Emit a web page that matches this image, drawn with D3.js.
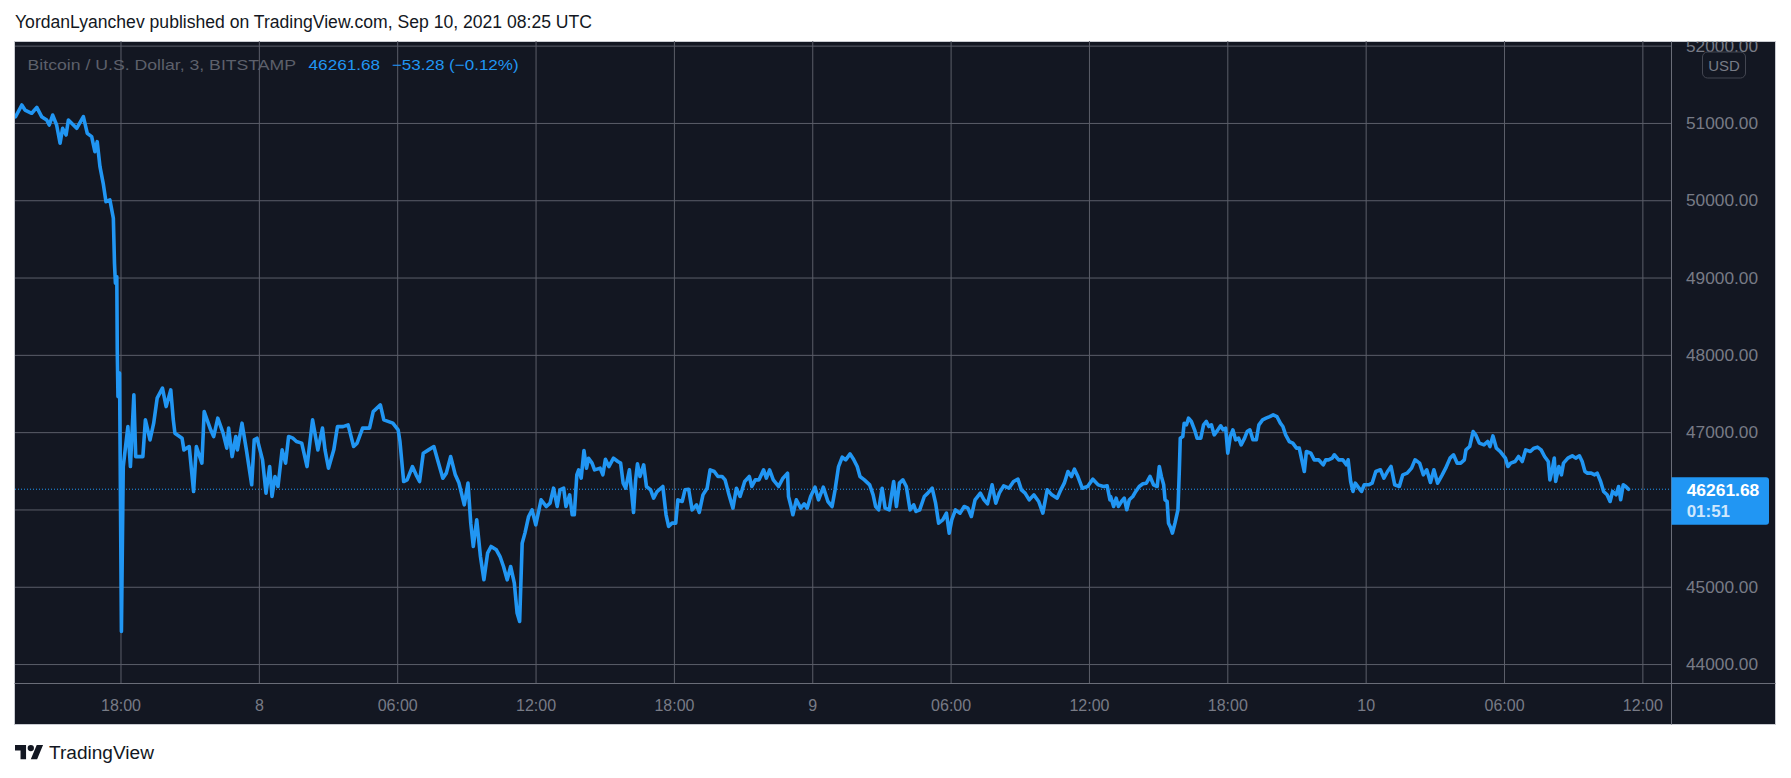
<!DOCTYPE html>
<html>
<head>
<meta charset="utf-8">
<script src="https://cdn.jsdelivr.net/npm/d3@7"></script>
<style>
html,body{margin:0;padding:0;background:#ffffff;}
svg{display:block;}
</style>
</head>
<body>
<svg id="chart" width="1791" height="778"></svg>
<script>
// ---------------- DATA ----------------
// hours since 2021-09-07 00:00, and BTC/USD price (3-min line)
const hoursA = [13.45,13.72,13.86,14.15,14.37,14.58,14.80,14.91,15.06,15.23,15.38,15.49,15.64,15.74,16.10,16.39,16.56,16.75,16.89,16.99,17.11,17.25,17.37,17.54,17.69,17.74,17.78,17.84,17.86,17.89,17.96,18.04,18.12,18.32,18.43,18.58,18.66,18.97,19.08,19.28,19.44,19.59,19.82,19.98,20.18,20.29,20.36,20.67,20.75,20.98,21.17,21.29,21.53,21.63,21.91,22.04,22.22,22.45,22.61,22.69,22.84,23.00,23.07,23.27,23.46,23.69,23.80,23.92,24.16,24.31,24.47,24.57,24.70,24.83,25.01,25.16,25.29,25.48,25.63,25.86,26.09,26.33,26.56,26.76,26.87,27.02,27.25,27.41,27.65,27.87,28.11,28.26,28.50,28.80,28.96,29.27,29.42,29.81,30.04,30.12,30.28,30.43,30.66,30.82,30.97,31.13,31.36,31.59,31.75,31.98,32.13,32.32,32.52,32.68,32.91,33.07,33.19,33.30,33.45,33.61,33.76,33.92,34.07,34.30,34.46,34.61,34.77,34.92,35.08,35.20,35.31,35.42,35.54,35.70,35.85,36.01,36.24,36.47];
const pricesA = [51080,51232,51167,51125,51202,51081,51038,50973,51102,50973,50737,50931,50844,51038,50931,51081,50866,50822,50628,50758,50434,50219,49981,50004,49767,49180,48927,49010,48064,47460,47763,44422,46555,47072,46555,47482,46684,46684,47159,46900,47116,47440,47569,47331,47547,47159,46987,46922,46771,46814,46232,46814,46599,47266,47030,46943,47181,46987,46793,47052,46684,46943,46771,47116,46771,46319,46900,46922,46642,46211,46555,46168,46426,46297,46771,46599,46943,46922,46878,46858,46555,47159,46771,47052,46771,46534,46771,47072,47072,47094,46814,46858,47052,47052,47266,47353,47159,47116,47030,46878,46361,46383,46555,46448,46361,46728,46771,46814,46642,46405,46470,46684,46448,46341,46060,46341,45823,45521,45866,45391,45090,45435,45521,45478,45391,45262,45090,45262,45047,44660,44551,45564,45694,45909,45995,45801,46125,46038];

const hoursB = [36.63,36.78,36.94,37.06,37.22,37.32,37.48,37.59,37.68,37.79,37.87,37.98,38.10,38.21,38.30,38.45,38.56,38.80,38.92,39.03,39.18,39.38,39.57,39.69,39.80,39.91,40.07,40.16,40.25,40.34,40.42,40.53,40.69,40.81,40.99,41.12,41.27,41.52,41.66,41.77,41.92,42.08,42.17,42.36,42.48,42.64,42.79,42.98,43.10,43.26,43.44,43.57,43.75,43.91,44.09,44.22,44.37,44.56,44.71,44.87,45.07,45.27,45.38,45.53,45.69,45.89,46.01,46.15,46.31,46.54,46.73,46.93,46.97,47.08,47.16,47.31,47.50,47.65,47.78,47.93,48.12,48.27,48.48,48.68,48.86,48.99,49.14,49.30,49.45,49.64,49.79,49.95,50.07,50.26,50.49,50.64,50.75,50.88,51.03,51.16,51.34,51.53,51.65,51.78,51.93,52.08,52.24,52.40,52.50,52.66,52.86,53.01,53.20,53.35,53.48,53.66,53.82,53.94,54.05,54.21,54.41,54.59,54.75,54.90,55.06,55.29,55.45,55.60,55.80,55.96,56.11,56.30,56.53,56.73,56.92,57.07,57.23,57.41,57.61,57.82,58.00,58.19,58.39,58.62,58.78,58.93,59.09,59.24,59.37,59.52,59.71,59.94,60.17,60.40,60.63,60.79,60.91];
const pricesB = [46081,46275,46038,46254,46275,46038,46189,45931,45931,46448,46512,46405,46762,46534,46663,46599,46512,46534,46448,46650,46555,46663,46620,46599,46340,46275,46512,46232,45961,46383,46590,46426,46577,46297,46254,46146,46232,46297,45931,45780,45823,45823,46124,46103,46254,46262,45995,46060,45961,46189,46275,46512,46491,46426,46426,46383,46211,46017,46275,46168,46362,46426,46297,46383,46383,46512,46405,46512,46383,46297,46405,46469,46168,46038,45931,46124,46017,46073,46017,46168,46288,46124,46288,46103,46038,46254,46555,46676,46642,46719,46650,46555,46426,46383,46318,46189,46038,45995,46275,46017,45995,46362,46038,46340,46383,46297,45995,46060,45974,45995,46168,46211,46275,46081,45823,45866,45952,45693,45866,45995,45952,46038,46017,45909,46124,46211,46124,46073,46318,46081,46211,46305,46275,46362,46392,46254,46211,46124,46189,46103,45952,46254,46189,46146,46254,46340,46491,46426,46521,46426,46275,46297,46392,46318,46297,46305,46124];

const hoursC = [60.94,61.07,61.18,61.28,61.41,61.53,61.64,61.75,61.90,62.03,62.18,62.34,62.49,62.65,62.80,62.96,63.05,63.14,63.24,63.30,63.39,63.45,63.55,63.62,63.73,63.86,63.92,63.96,64.07,64.13,64.23,64.32,64.44,64.58,64.69,64.85,64.97,65.09,65.20,65.31,65.43,65.59,65.71,65.82,65.93,66.02,66.13,66.24,66.36,66.49,66.60,66.75,66.86,66.98,67.11,67.26,67.37,67.53,67.68,67.84,67.99,68.15,68.30,68.41,68.53,68.69,68.84,69.00,69.12,69.23,69.34,69.43,69.62,69.77,69.96,70.16,70.27,70.39,70.55,70.64,70.83,71.01,71.17,71.24,71.35,71.45,71.55,71.71,71.82,71.94,72.13,72.28,72.44,72.64,72.79,72.95,73.10,73.26,73.46,73.61,73.80,73.99,74.14,74.34,74.50,74.65,74.81,74.96,75.12,75.32,75.47,75.66,75.81,75.97,76.12,76.28,76.35,76.51,76.66,76.77,76.93,77.13,77.29,77.39,77.52,77.67,77.83,78.06,78.17,78.29,78.48,78.63,78.79,78.94,79.14,79.30,79.45,79.61,79.76,79.92,79.99,80.09,80.18,80.24,80.38,80.49,80.58,80.77,80.96,81.11,81.27,81.39,81.51,81.62,81.78,81.93,82.04,82.19,82.32,82.47,82.60,82.71,82.86,82.97,83.06,83.17,83.28,83.40];
const pricesC = [46168,46039,46146,46039,46103,46146,45996,46125,46168,46233,46297,46332,46340,46427,46319,46297,46556,46427,46319,46125,46103,45823,45759,45694,45823,45996,46513,46922,46944,47116,47095,47181,47138,47030,46922,46922,47095,47138,47073,47095,46965,47030,47082,47030,47051,46728,46944,47030,46901,46922,46836,46922,47008,47030,46901,46901,47095,47159,47181,47202,47224,47202,47116,47073,46965,46879,46858,46793,46793,46642,46491,46750,46728,46642,46642,46577,46642,46642,46664,46707,46642,46642,46577,46642,46362,46233,46340,46276,46233,46319,46319,46340,46491,46513,46405,46491,46556,46319,46297,46448,46470,46534,46642,46599,46448,46513,46349,46513,46340,46448,46534,46664,46707,46599,46599,46642,46771,46814,47008,46965,46858,46836,46879,46814,46952,46793,46750,46664,46556,46599,46620,46685,46620,46771,46750,46793,46806,46771,46685,46620,46383,46513,46664,46362,46556,46448,46599,46664,46694,46664,46694,46620,46491,46470,46470,46448,46470,46362,46233,46190,46103,46233,46190,46297,46125,46319,46297,46261.68];

const priceTicks = [44000,45000,46000,47000,48000,49000,50000,51000,52000];
const timeTickHours = [18,24,30,36,42,48,54,60,66,72,78,84];
const timeTickLabels = ["18:00","8","06:00","12:00","18:00","9","06:00","12:00","18:00","10","06:00","12:00"];
const timeDomainHours = [13.425, 85.242];
const priceDomain = [43755, 52060];

const lastPrice = 46261.68;
const lastPriceText = "46261.68";
const changeText = "\u221253.28 (\u22120.12%)";
const countdownText = "01:51";
const symbolText = "Bitcoin / U.S. Dollar, 3, BITSTAMP";
const titleText = "YordanLyanchev published on TradingView.com, Sep 10, 2021 08:25 UTC";
const currencyText = "USD";
const brandText = "TradingView";

// ---------------- HELPERS ----------------
const base = Date.UTC(2021, 8, 7);
const toDate = h => new Date(base + h * 3600e3);
const series = [];
[[hoursA, pricesA], [hoursB, pricesB], [hoursC, pricesC]].forEach(([hs, ps]) => {
  const n = Math.min(hs.length, ps.length);
  for (let i = 0; i < n; i++) series.push({ t: toDate(hs[i]), p: ps[i] });
});

// ---------------- LAYOUT ----------------
const W = 1791, H = 778;
const panel = { x0: 14.5, y0: 41.5, x1: 1775.5, y1: 724.5 };
const plot = { left: 15, right: 1671, top: 41, bottom: 683 };
const FONT = "'Liberation Sans', Arial, sans-serif";
const BG = "#131722", GRID = "#5b5e69", SEP = "#6a6d78", AXTXT = "#787b86", BLUE = "#2196f3";

const svg = d3.select("#chart");
svg.append("rect").attr("width", W).attr("height", H).attr("fill", "#ffffff");

// title
svg.append("text").attr("x", 15).attr("y", 28)
  .attr("font-family", FONT).attr("font-size", 17.5).attr("fill", "#131722")
  .attr("textLength", 577).attr("lengthAdjust", "spacingAndGlyphs")
  .text(titleText);

// panel
svg.append("rect")
  .attr("x", panel.x0).attr("y", panel.y0)
  .attr("width", panel.x1 - panel.x0).attr("height", panel.y1 - panel.y0)
  .attr("fill", BG).attr("stroke", "#c9cbd1").attr("stroke-width", 1);

// scales
const x = d3.scaleUtc().domain(timeDomainHours.map(toDate)).range([plot.left, plot.right]);
const y = d3.scaleLinear().domain(priceDomain).range([plot.bottom, plot.top]);

// grid
const gridG = svg.append("g");
gridG.append("g").attr("transform", `translate(${plot.left},0)`)
  .call(d3.axisLeft(y).tickValues(priceTicks).tickSize(-(plot.right - plot.left)).tickFormat(""));
gridG.append("g").attr("transform", `translate(0,${plot.bottom})`)
  .call(d3.axisBottom(x).tickValues(timeTickHours.map(toDate)).tickSize(-(plot.bottom - plot.top)).tickFormat(""));
gridG.selectAll(".domain").remove();
gridG.selectAll(".tick line").attr("stroke", GRID).attr("stroke-width", 1);

// separators
svg.append("line").attr("x1", 1671.5).attr("x2", 1671.5).attr("y1", panel.y0).attr("y2", panel.y1)
  .attr("stroke", SEP);
svg.append("line").attr("x1", panel.x0).attr("x2", panel.x1).attr("y1", 683.5).attr("y2", 683.5)
  .attr("stroke", SEP);

// legend
const legend = svg.append("g").attr("font-family", FONT).attr("font-size", 15).attr("dominant-baseline", "central");
legend.append("text").attr("x", 27.6).attr("y", 64).attr("fill", "#5d606b")
  .attr("textLength", 268.5).attr("lengthAdjust", "spacingAndGlyphs").text(symbolText);
legend.append("text").attr("x", 308.6).attr("y", 64).attr("fill", BLUE)
  .attr("textLength", 71.4).attr("lengthAdjust", "spacingAndGlyphs").text(lastPriceText);
legend.append("text").attr("x", 391.9).attr("y", 64).attr("fill", BLUE)
  .attr("textLength", 126.7).attr("lengthAdjust", "spacingAndGlyphs").text(changeText);

// clip for plot
const defs = svg.append("defs");
defs.append("clipPath").attr("id", "plotClip").append("rect")
  .attr("x", plot.left).attr("y", plot.top).attr("width", plot.right - plot.left).attr("height", plot.bottom - plot.top);
defs.append("clipPath").attr("id", "axisClip").append("rect")
  .attr("x", 1672).attr("y", 41.5).attr("width", 104).attr("height", 642);

// dotted last-price line
svg.append("line").attr("clip-path", "url(#plotClip)")
  .attr("x1", plot.left).attr("x2", plot.right)
  .attr("y1", y(lastPrice)).attr("y2", y(lastPrice))
  .attr("stroke", BLUE).attr("stroke-width", 1).attr("stroke-dasharray", "1,2");

// price line
const line = d3.line().x(d => x(d.t)).y(d => y(d.p));
svg.append("path").datum(series).attr("clip-path", "url(#plotClip)")
  .attr("d", line).attr("fill", "none").attr("stroke", BLUE)
  .attr("stroke-width", 3.6).attr("stroke-linejoin", "round").attr("stroke-linecap", "round");

// price axis (labels hidden by the last-price tag are not drawn, as in the reference)
const ly = y(lastPrice);
const visibleTicks = priceTicks.filter(v => Math.abs(y(v) - (ly + 11.5)) > 32);
const yAx = svg.append("g").attr("clip-path", "url(#axisClip)")
  .append("g").attr("transform", "translate(1686,0)")
  .call(d3.axisRight(y).tickValues(visibleTicks).tickSize(0).tickPadding(0).tickFormat(d => d.toFixed(2)));
yAx.select(".domain").remove();
yAx.selectAll("text").attr("font-family", FONT).attr("font-size", 16).attr("fill", AXTXT)
  .attr("x", 0).attr("dy", "0.35em")
  .attr("textLength", 72).attr("lengthAdjust", "spacingAndGlyphs");

// USD box
svg.append("rect").attr("x", 1702.5).attr("y", 52).attr("width", 43).attr("height", 26).attr("rx", 5)
  .attr("fill", BG).attr("stroke", "#434651");
svg.append("text").attr("x", 1724).attr("y", 65.5).attr("text-anchor", "middle").attr("dominant-baseline", "central")
  .attr("font-family", FONT).attr("font-size", 15).attr("fill", AXTXT).text(currencyText);

// time axis
const xAx = svg.append("g").attr("transform", `translate(0,${plot.bottom})`)
  .call(d3.axisBottom(x).tickValues(timeTickHours.map(toDate)).tickSize(0).tickFormat((d, i) => timeTickLabels[i]));
xAx.select(".domain").remove();
xAx.selectAll("text").attr("font-family", FONT).attr("font-size", 16).attr("fill", AXTXT)
  .attr("y", 22).attr("dy", "0.35em");

// last price label
const lbl = svg.append("g");
lbl.append("path")
  .attr("d", `M1671.5,${ly - 12} h94.5 a3,3 0 0 1 3,3 v41.4 a3,3 0 0 1 -3,3 h-94.5 z`)
  .attr("fill", BLUE);
lbl.append("text").attr("x", 1686.7).attr("y", ly + 1.5).attr("dominant-baseline", "central")
  .attr("font-family", FONT).attr("font-size", 16).attr("font-weight", "bold").attr("fill", "#ffffff")
  .attr("textLength", 72.6).attr("lengthAdjust", "spacingAndGlyphs").text(lastPriceText);
lbl.append("text").attr("x", 1686.7).attr("y", ly + 22.5).attr("dominant-baseline", "central")
  .attr("font-family", FONT).attr("font-size", 16).attr("font-weight", "bold").attr("fill", "#ffffff").attr("fill-opacity", 0.8)
  .attr("textLength", 43.3).attr("lengthAdjust", "spacingAndGlyphs").text(countdownText);

// brand logo
const logo = svg.append("g").attr("transform", "translate(15,741.8) scale(0.79)").attr("fill", "#131722");
logo.append("path").attr("d", "M14 22H7V11H0V4h14v18zM28 22h-8l7.5-18h8L28 22z");
logo.append("circle").attr("cx", 20).attr("cy", 8).attr("r", 4);
svg.append("text").attr("x", 49).attr("y", 758.5)
  .attr("font-family", FONT).attr("font-size", 18).attr("font-weight", 500).attr("fill", "#131722")
  .attr("textLength", 105).attr("lengthAdjust", "spacingAndGlyphs").text(brandText);
</script>
</body>
</html>
